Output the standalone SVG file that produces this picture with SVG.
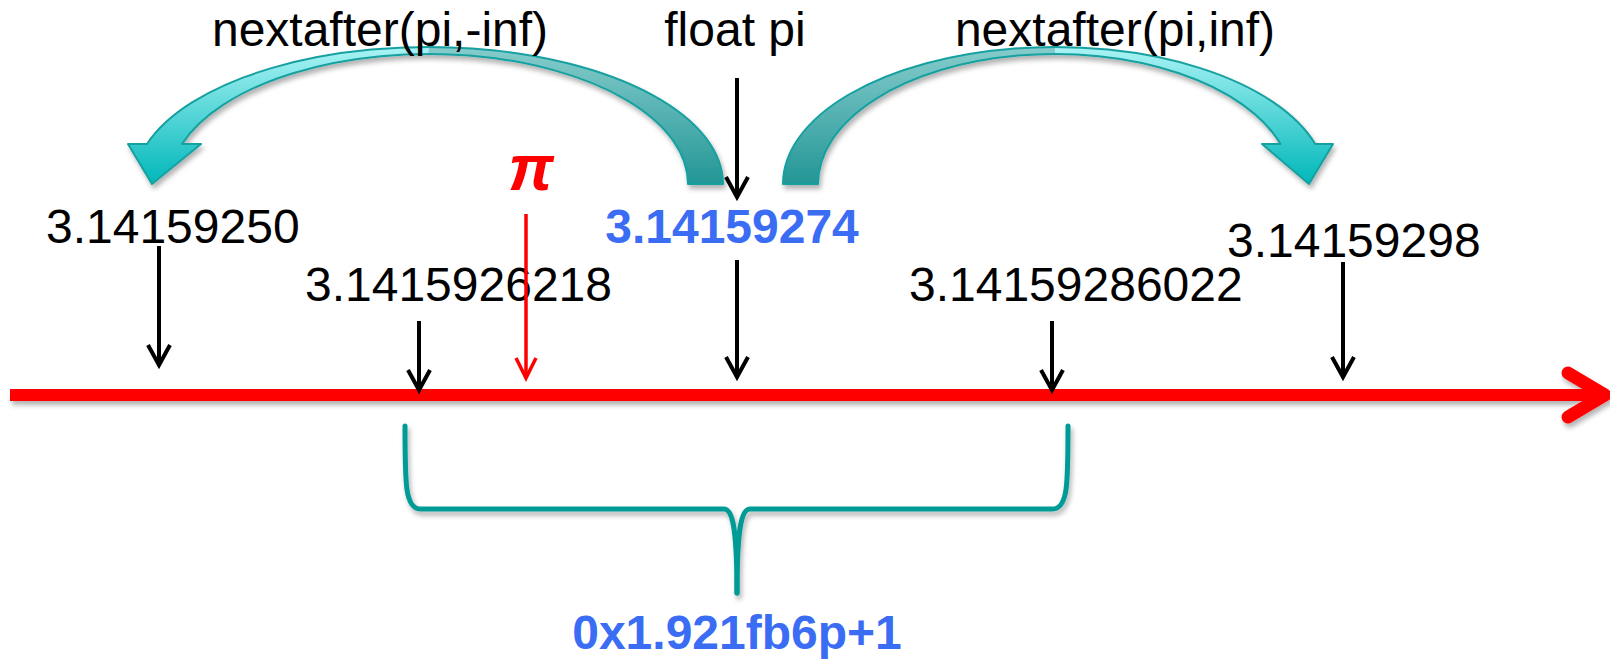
<svg xmlns="http://www.w3.org/2000/svg" width="1610" height="659" viewBox="0 0 1610 659">
  <style>
    .lbl { font-family: "Liberation Sans", Arial, sans-serif; font-size: 48px; fill: #000; }
    .val { font-family: "Liberation Sans", Arial, sans-serif; font-size: 48px; font-weight: bold; fill: #3a6cf4; }
    .pi { font-family: "Liberation Sans", Arial, sans-serif; font-size: 64px; font-weight: bold; font-style: italic; fill: #ff0000; }
    .ptr { stroke: #000; stroke-width: 4; fill: none; }
    .ptr-red { stroke: #ff0000; stroke-width: 3.5; fill: none; }
    .outline { fill: none; stroke: #17a0a0; stroke-width: 2; stroke-linejoin: round; }
    .brace { fill: none; stroke: #009b96; stroke-width: 5; stroke-linecap: round; stroke-linejoin: round; }
  </style>
  <defs>
    <filter id="shadow" x="-10%" y="-20%" width="120%" height="160%">
      <feDropShadow dx="2" dy="4" stdDeviation="2.5" flood-color="#000" flood-opacity="0.3"/>
    </filter>
    <linearGradient id="headFill" gradientUnits="userSpaceOnUse" x1="0" y1="47" x2="0" y2="184">
      <stop offset="0" stop-color="#aaf3f5"/>
      <stop offset="1" stop-color="#00b7b9"/>
    </linearGradient>
    <linearGradient id="tailFill" gradientUnits="userSpaceOnUse" x1="0" y1="47" x2="0" y2="184">
      <stop offset="0" stop-color="#86cccc"/>
      <stop offset="1" stop-color="#239696"/>
    </linearGradient>
    <marker id="tipBlack" markerUnits="userSpaceOnUse" markerWidth="40" markerHeight="40" refX="0" refY="0" orient="auto" overflow="visible">
      <path d="M -20 -11 L 0 0 L -20 11" fill="none" stroke="#000" stroke-width="4" stroke-linejoin="miter"/>
    </marker>
    <marker id="tipRed" markerUnits="userSpaceOnUse" markerWidth="40" markerHeight="40" refX="0" refY="0" orient="auto" overflow="visible">
      <path d="M -20 -10 L 0 0 L -20 10" fill="none" stroke="#ff0000" stroke-width="3.5" stroke-linejoin="miter"/>
    </marker>
  </defs>

  <rect width="1610" height="659" fill="#ffffff"/>

  <!-- number line -->
  <g id="axis" filter="url(#shadow)">
    <path d="M 10 395 L 1600 395" stroke="#ff0000" stroke-width="12" fill="none"/>
    <path d="M 1568 373 L 1605 395 L 1568 417" stroke="#ff0000" stroke-width="13" fill="none" stroke-linecap="round" stroke-linejoin="round"/>
  </g>

  <!-- curved step arrows -->
  <g id="step-down" filter="url(#shadow)">
    <path d="M 723 184 A 294.4 137 0 0 0 147 144 L 128 144 L 152 184 L 201 144 L 182 144 A 259.3 130 0 0 1 688 184 Z" fill="url(#headFill)"/>
    <path d="M 723 184 A 294.4 137 0 0 0 428.6 47 L 428.6 54 A 259.3 130 0 0 1 688 184 Z" fill="url(#tailFill)"/>
    <path class="outline" d="M 723 184 A 294.4 137 0 0 0 147 144 L 128 144 L 152 184 L 201 144 L 182 144 A 259.3 130 0 0 1 688 184 Z"/>
  </g>
  <g id="step-up" filter="url(#shadow)">
    <path d="M 783 184 A 272 137 0 0 1 1315.2 144 L 1333 144 L 1309 184 L 1262 144 L 1280.5 144 A 237 130 0 0 0 818 184 Z" fill="url(#headFill)"/>
    <path d="M 783 184 A 272 137 0 0 1 1055 47 L 1055 54 A 237 130 0 0 0 818 184 Z" fill="url(#tailFill)"/>
    <path class="outline" d="M 783 184 A 272 137 0 0 1 1315.2 144 L 1333 144 L 1309 184 L 1262 144 L 1280.5 144 A 237 130 0 0 0 818 184 Z"/>
  </g>

  <!-- labels -->
  <g id="label-nextafter-down"><text class="lbl" x="380" y="46" text-anchor="middle">nextafter(pi,-inf)</text></g>
  <g id="label-float-pi"><text class="lbl" x="735" y="46" text-anchor="middle">float pi</text></g>
  <g id="label-nextafter-up"><text class="lbl" x="1115" y="46" text-anchor="middle">nextafter(pi,inf)</text></g>
  <g id="val-below"><text class="lbl" x="46" y="243">3.14159250</text></g>
  <g id="val-pi"><text class="pi" x="531" y="190" text-anchor="middle">π</text></g>
  <g id="val-float"><text class="val" x="732" y="243" text-anchor="middle">3.14159274</text></g>
  <g id="val-above"><text class="lbl" x="1227" y="257">3.14159298</text></g>
  <g id="val-mid-low"><text class="lbl" x="305" y="301">3.1415926218</text></g>
  <g id="val-mid-high"><text class="lbl" x="909" y="301">3.14159286022</text></g>
  <g id="val-hex"><text class="val" x="737" y="649" text-anchor="middle">0x1.921fb6p+1</text></g>

  <!-- span brace between the two rounding midpoints -->
  <g id="brace" filter="url(#shadow)">
    <path class="brace" d="M 405 426 C 405 485 405 509 421 509 L 724 509 C 733 509 737 530 737 593"/>
    <path class="brace" d="M 1068 426 C 1068 485 1068 509 1052 509 L 750 509 C 741 509 737 530 737 593"/>
  </g>

  <!-- pointers onto the number line -->
  <g id="connectors">
    <path class="ptr" d="M 737 78 L 737 197" marker-end="url(#tipBlack)"/>
    <path class="ptr" d="M 159 246 L 159 365" marker-end="url(#tipBlack)"/>
    <path class="ptr" d="M 419 321 L 419 390" marker-end="url(#tipBlack)"/>
    <path class="ptr-red" d="M 526 214 L 526 378" marker-end="url(#tipRed)"/>
    <path class="ptr" d="M 737 260 L 737 377" marker-end="url(#tipBlack)"/>
    <path class="ptr" d="M 1052 321 L 1052 390" marker-end="url(#tipBlack)"/>
    <path class="ptr" d="M 1343 262 L 1343 377" marker-end="url(#tipBlack)"/>
  </g>
</svg>
